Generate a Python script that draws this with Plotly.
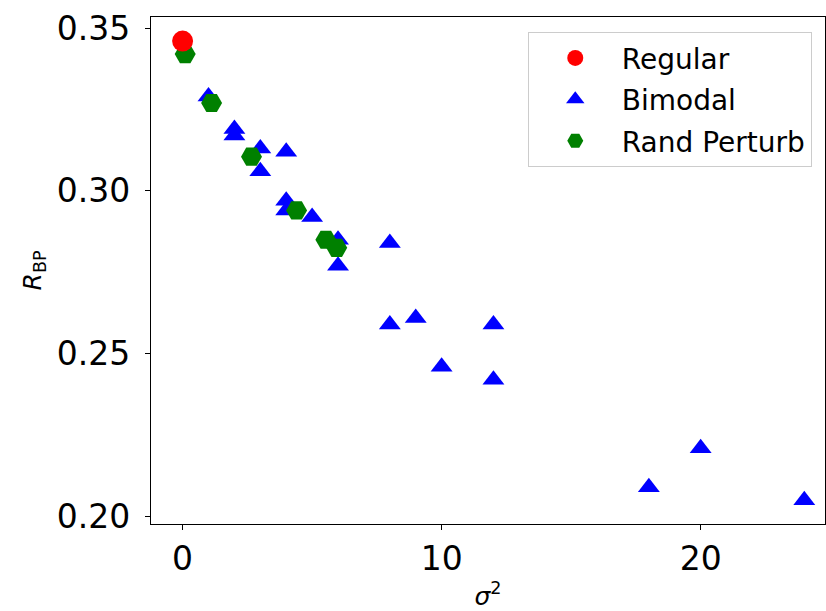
import plotly.graph_objects as go

# Data
regular_x = [0.0]
regular_y = [0.346]

bimodal_x = [1, 2, 2, 3, 3, 4, 4, 4, 5, 6, 6, 8, 8, 9, 10, 12, 12, 18, 20, 24]
bimodal_y = [0.329, 0.319, 0.317, 0.313, 0.306, 0.312, 0.297, 0.294, 0.292, 0.285,
             0.277, 0.284, 0.259, 0.261, 0.246, 0.259, 0.242, 0.209, 0.221, 0.205]

rand_x = [0.1, 1.12, 2.66, 4.40, 5.53, 5.95]
rand_y = [0.342, 0.327, 0.3105, 0.294, 0.285, 0.2825]

x_ticks = [0, 10, 20]
y_ticks = [0.20, 0.25, 0.30, 0.35]

FONT = "DejaVu Sans"

fig = go.Figure()
fig.add_trace(go.Scatter(
    x=bimodal_x, y=bimodal_y, mode="markers", name="Bimodal",
    legendrank=2, legendgroup="b",
    marker=dict(symbol="triangle-up", size=19, color="#0000ff"),
))
fig.add_trace(go.Scatter(
    x=rand_x, y=rand_y, mode="markers", name="Rand Perturb",
    legendrank=3, legendgroup="c",
    marker=dict(symbol="hexagon2", size=21, color="#008000"),
))
fig.add_trace(go.Scatter(
    x=regular_x, y=regular_y, mode="markers", name="Regular",
    legendrank=1, legendgroup="a",
    marker=dict(symbol="circle", size=21, color="#ff0000"),
))

axis_common = dict(
    showgrid=False, zeroline=False, showline=True, linecolor="black",
    linewidth=1.2, mirror=True, ticks="outside", ticklen=5, tickwidth=1.2,
    tickcolor="black", tickfont=dict(family=FONT, size=33, color="black"),
)

fig.update_layout(
    width=826, height=611,
    margin=dict(l=151, r=1, t=17, b=87),
    paper_bgcolor="white", plot_bgcolor="white",
    font=dict(family=FONT, color="black"),
    xaxis=dict(
        range=[-1.22, 24.8], tickvals=x_ticks,
        title=dict(text="<i>σ</i><sup>2</sup>", font=dict(family=FONT, size=25), standoff=15),
        **axis_common,
    ),
    yaxis=dict(
        range=[0.1977, 0.3534], tickvals=y_ticks, tickformat=".2f",
        title=dict(text="<i>R</i><sub>BP</sub>", font=dict(family=FONT, size=25), standoff=8),
        ticklabelstandoff=8,
        **axis_common,
    ),
    legend=dict(
        x=0.559, y=0.97, xanchor="left", yanchor="top",
        bordercolor="#cccccc", borderwidth=1, bgcolor="white",
        font=dict(family=FONT, size=28), tracegroupgap=2, itemwidth=83,
    ),
    showlegend=True,
)

fig.write_html(
    "out.html",
    config={"displayModeBar": False},
    post_script="document.body.style.margin='0';document.body.style.padding='0';",
)
